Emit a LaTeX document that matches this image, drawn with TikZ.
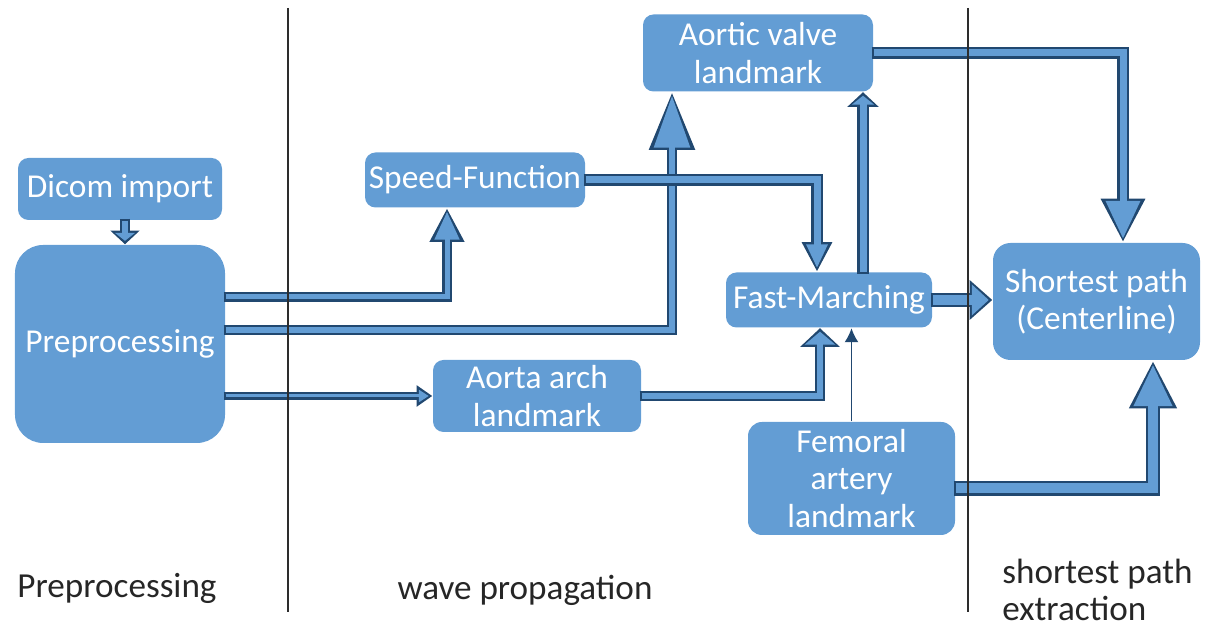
\documentclass[tikz,border=0pt]{standalone}
\usepackage{fontspec}
\setmainfont{Carlito}
\usetikzlibrary{arrows.meta}
\definecolor{boxblue}{RGB}{99,157,212}
\definecolor{pipeedge}{RGB}{33,72,112}
\definecolor{rulegray}{RGB}{45,45,45}
\tikzset{
  box/.style={fill=boxblue, text=white, rounded corners=3pt, align=center, inner sep=0pt,
    font=\fontsize{9.5}{10.6}\selectfont},
  phase/.style={text=black!85, align=left, font=\fontsize{10}{10.3}\selectfont},
  feed/.style={draw=pipeedge, line width=0.5pt, -{Latex[length=4pt,width=4pt]}},
  pipe/.code n args={3}{%
    \pgfmathsetlengthmacro\pipeout{#1+1.2pt}%
    \pgfmathsetlengthmacro\headw{#2+2.4pt}%
    \pgfmathsetlengthmacro\headl{#3+1.6pt}%
    \tikzset{draw=boxblue, line width=#1, -{Triangle[width=#2,length=#3]}, shorten >=1pt,
      preaction={draw=pipeedge, line width=\pipeout, shorten >=0pt, shorten <=-0.6pt,
        -{Triangle[width=\headw,length=\headl]}}}}
}
\begin{document}
\begin{tikzpicture}
  \useasboundingbox (0,0) rectangle (12.06,6.30);
  % boxes
  \node[box, minimum width=2.04cm, minimum height=0.62cm] (dicom) at (1.20,4.41) {Dicom import};
  \node[box, rounded corners=8pt, minimum width=2.10cm, minimum height=1.98cm] (prep) at (1.20,2.86) {Preprocessing};
  \node[box, minimum width=2.20cm, minimum height=0.55cm] (speed) at (4.75,4.50) {Speed-Function};
  \node[box, minimum width=2.30cm, minimum height=0.77cm] (valve) at (7.58,5.77) {Aortic valve\\landmark};
  \node[box, minimum width=2.06cm, minimum height=0.55cm] (fast) at (8.29,3.30) {Fast-Marching};
  \node[box, minimum width=2.08cm, minimum height=0.72cm] (arch) at (5.37,2.34) {Aorta arch\\landmark};
  \node[box, rounded corners=4pt, minimum width=2.07cm, minimum height=1.13cm] (femoral) at (8.515,1.515) {Femoral\\artery\\landmark};
  \node[box, rounded corners=5pt, minimum width=2.07cm, minimum height=1.17cm] (short) at (10.965,3.285) {Shortest path\\(Centerline)};
  % phase labels
  \node[phase] (lprep) at (1.17,0.42) {Preprocessing};
  \node[phase] (lwave) at (5.25,0.40) {wave propagation};
  \node[phase, anchor=west] (lpath) at (9.90,0.40) {shortest path\\extraction};
  % connectors
  \draw[pipe={0.06cm}{0.2cm}{0.08cm}] ([xshift=0.05cm]dicom.south) -- ([xshift=0.05cm]prep.north);
  \draw[pipe={0.05cm}{0.24cm}{0.28cm}] ([yshift=0.47cm]prep.east) -| ([xshift=-0.28cm]speed.south);
  \draw[pipe={0.06cm}{0.35cm}{0.52cm}] ([yshift=0.14cm]prep.east) -| ([xshift=-0.86cm]valve.south);
  \draw[pipe={0.03cm}{0.12cm}{0.1cm}] (prep.east |- arch.west) -- (arch.west);
  \draw[pipe={0.07cm}{0.2cm}{0.24cm}] (speed.east) -| ([xshift=-0.12cm]fast.north);
  \draw[pipe={0.06cm}{0.3cm}{0.13cm}] (arch.east) -| ([xshift=-0.09cm]fast.south);
  \draw[feed] (femoral.north) -- (femoral.north |- fast.south);
  \draw[pipe={0.07cm}{0.22cm}{0.09cm}] ([xshift=0.34cm]fast.north) -- ([xshift=0.34cm]fast.north |- valve.south);
  \draw[pipe={0.07cm}{0.33cm}{0.38cm}] (valve.east) -| ([xshift=0.265cm]short.north);
  \draw[pipe={0.1cm}{0.3cm}{0.17cm}] (fast.east) -- (fast.east -| short.west);
  \draw[pipe={0.1cm}{0.36cm}{0.42cm}] ([yshift=-0.1cm]femoral.east) -| ([xshift=0.565cm]short.south);
  % phase separators
  \draw[rulegray, line width=0.6pt] (2.88,6.22) -- (2.88,0.18);
  \draw[rulegray, line width=0.6pt] (9.68,6.22) -- (9.68,0.18);
\end{tikzpicture}
\end{document}
